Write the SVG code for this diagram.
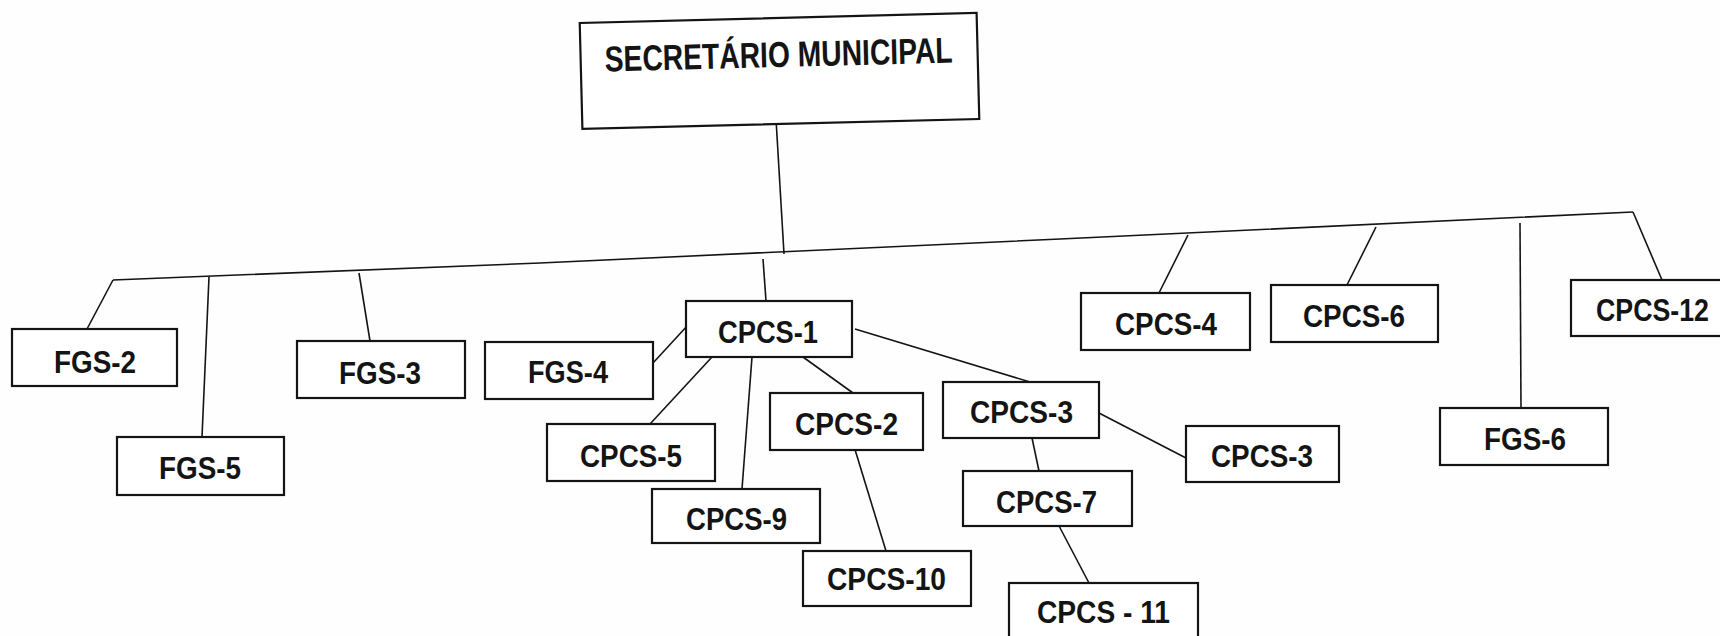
<svg xmlns="http://www.w3.org/2000/svg" width="1720" height="636" viewBox="0 0 1720 636">
<style>
.box{fill:#fff;stroke:#141414;stroke-width:2.2}
.lbl{font-family:"Liberation Sans",Arial,sans-serif;font-weight:700;font-size:32px;fill:#141414}
.top{font-family:"Liberation Sans",Arial,sans-serif;font-weight:700;font-size:36px;fill:#141414}
.ln{fill:none;stroke:#141414;stroke-width:1.6}
</style>
<rect width="1720" height="636" fill="#fefefe"/>
<g id="connectors">
<line class="ln" x1="776" y1="119" x2="784" y2="254"/>
<polyline class="ln" points="113,280 540,263 1060,239 1633,212"/>
<line class="ln" x1="113" y1="280" x2="87" y2="329"/>
<line class="ln" x1="209" y1="277" x2="202" y2="437"/>
<line class="ln" x1="359" y1="273" x2="370" y2="341"/>
<line class="ln" x1="763" y1="259" x2="766" y2="301"/>
<line class="ln" x1="1188" y1="235" x2="1159" y2="293"/>
<line class="ln" x1="1376" y1="227" x2="1347" y2="285"/>
<line class="ln" x1="1520" y1="223" x2="1521" y2="408"/>
<line class="ln" x1="1633" y1="212" x2="1662" y2="280"/>
<line class="ln" x1="653" y1="363" x2="688" y2="325"/>
<line class="ln" x1="712" y1="357" x2="650" y2="424"/>
<line class="ln" x1="752" y1="357" x2="742" y2="489"/>
<line class="ln" x1="803" y1="357" x2="853" y2="393"/>
<line class="ln" x1="855" y1="329" x2="1030" y2="382"/>
<line class="ln" x1="853" y1="443" x2="886" y2="551"/>
<line class="ln" x1="1097" y1="412" x2="1186" y2="458"/>
<line class="ln" x1="1032" y1="438" x2="1039" y2="471"/>
<line class="ln" x1="1058" y1="524" x2="1089" y2="583"/>
</g>
<g id="secretario" transform="rotate(-1.45 779 71)">
<rect class="box" x="581" y="18" width="397" height="106"/>
<text class="top" x="605" y="67" textLength="348" lengthAdjust="spacingAndGlyphs">SECRETÁRIO MUNICIPAL</text>
</g>
<g id="fgs2"><rect class="box" x="12" y="329" width="165" height="57"/><text class="lbl" x="54" y="373" textLength="82" lengthAdjust="spacingAndGlyphs">FGS-2</text></g>
<g id="fgs5"><rect class="box" x="117" y="437" width="167" height="58"/><text class="lbl" x="159" y="479" textLength="82" lengthAdjust="spacingAndGlyphs">FGS-5</text></g>
<g id="fgs3"><rect class="box" x="297" y="341" width="168" height="57"/><text class="lbl" x="339" y="384" textLength="82" lengthAdjust="spacingAndGlyphs">FGS-3</text></g>
<g id="fgs4"><rect class="box" x="485" y="342" width="168" height="57"/><text class="lbl" x="528" y="383" textLength="80" lengthAdjust="spacingAndGlyphs">FGS-4</text></g>
<g id="cpcs1"><rect class="box" x="686" y="301" width="166" height="56"/><text class="lbl" x="718" y="343" textLength="100" lengthAdjust="spacingAndGlyphs">CPCS-1</text></g>
<g id="cpcs5"><rect class="box" x="547" y="424" width="168" height="57"/><text class="lbl" x="580" y="467" textLength="102" lengthAdjust="spacingAndGlyphs">CPCS-5</text></g>
<g id="cpcs9"><rect class="box" x="652" y="489" width="168" height="54"/><text class="lbl" x="686" y="530" textLength="101" lengthAdjust="spacingAndGlyphs">CPCS-9</text></g>
<g id="cpcs2"><rect class="box" x="770" y="393" width="153" height="57"/><text class="lbl" x="795" y="435" textLength="103" lengthAdjust="spacingAndGlyphs">CPCS-2</text></g>
<g id="cpcs10"><rect class="box" x="803" y="551" width="168" height="55"/><text class="lbl" x="827" y="590" textLength="119" lengthAdjust="spacingAndGlyphs">CPCS-10</text></g>
<g id="cpcs3a"><rect class="box" x="943" y="382" width="156" height="56"/><text class="lbl" x="970" y="423" textLength="103" lengthAdjust="spacingAndGlyphs">CPCS-3</text></g>
<g id="cpcs7"><rect class="box" x="963" y="471" width="169" height="55"/><text class="lbl" x="996" y="513" textLength="101" lengthAdjust="spacingAndGlyphs">CPCS-7</text></g>
<g id="cpcs11"><rect class="box" x="1009" y="583" width="189" height="60"/><text class="lbl" x="1037" y="623" textLength="133" lengthAdjust="spacingAndGlyphs">CPCS - 11</text></g>
<g id="cpcs3b"><rect class="box" x="1186" y="426" width="153" height="56"/><text class="lbl" x="1211" y="467" textLength="102" lengthAdjust="spacingAndGlyphs">CPCS-3</text></g>
<g id="cpcs4"><rect class="box" x="1081" y="293" width="169" height="57"/><text class="lbl" x="1115" y="335" textLength="102" lengthAdjust="spacingAndGlyphs">CPCS-4</text></g>
<g id="cpcs6"><rect class="box" x="1271" y="285" width="167" height="57"/><text class="lbl" x="1303" y="327" textLength="102" lengthAdjust="spacingAndGlyphs">CPCS-6</text></g>
<g id="fgs6"><rect class="box" x="1440" y="408" width="168" height="57"/><text class="lbl" x="1484" y="450" textLength="82" lengthAdjust="spacingAndGlyphs">FGS-6</text></g>
<g id="cpcs12"><rect class="box" x="1571" y="280" width="160" height="56"/><text class="lbl" x="1596" y="321" textLength="113" lengthAdjust="spacingAndGlyphs">CPCS-12</text></g>
</svg>
